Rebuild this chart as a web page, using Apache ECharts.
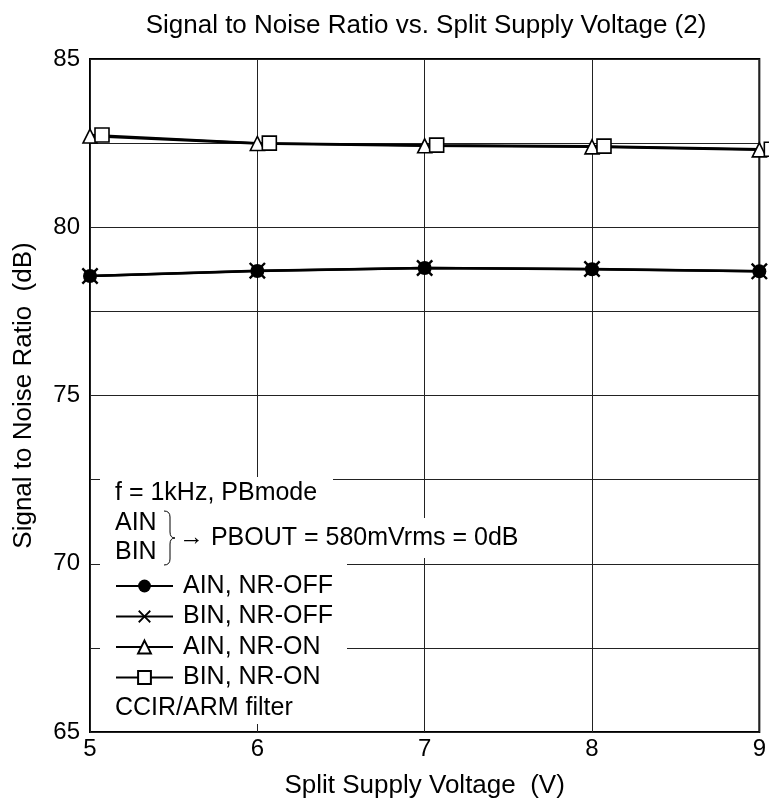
<!DOCTYPE html>
<html><head><meta charset="utf-8">
<script src="https://cdn.jsdelivr.net/npm/echarts@6/dist/echarts.min.js"></script>
<style>html,body{margin:0;padding:0;background:#fff}#c{width:769px;height:811px}</style>
</head><body><div id="c"></div>
<script>
// ---- data ----
const voltages = [5, 6, 7, 8, 9];
const ainNrOff = [78.55, 78.70, 78.79, 78.75, 78.69];
const binNrOff = [78.55, 78.71, 78.79, 78.76, 78.69];
const ainNrOn  = [82.71, 82.49, 82.42, 82.39, 82.30];
const binNrOn  = [82.74, 82.50, 82.44, 82.41, 82.32];
const seriesNames = ['AIN, NR-OFF', 'BIN, NR-OFF', 'AIN, NR-ON', 'BIN, NR-ON'];
const xTickLabels = ['5', '6', '7', '8', '9'];
const yTickLabels = ['65', '70', '75', '80', '85'];
const titleText = 'Signal to Noise Ratio vs. Split Supply Voltage (2)';
const xName = 'Split Supply Voltage  (V)';
const yName = 'Signal to Noise Ratio  (dB)';
const noteLines = ['f = 1kHz, PBmode', 'AIN', 'BIN', '\u2192 PBOUT = 580mVrms = 0dB', 'CCIR/ARM filter'];

const FONT = '"Liberation Sans", Arial, sans-serif';
const pair = (xs, ys) => xs.map((x, i) => [x, ys[i]]);
const crossPath = 'path://M0,1L1,0L5,4L9,0L10,1L6,5L10,9L9,10L5,6L1,10L0,9L4,5Z';

const chart = echarts.init(document.getElementById('c'), null, {renderer: 'canvas'});

const baseLine = {type: 'line', animation: false, clip: false,
  lineStyle: {color: '#000', width: 2.5}, z: 3};

const braceStyle = {fill: 'none', stroke: '#000', lineWidth: 1};
const brace = [
  {type: 'bezierCurve', z: 5, shape: {x1: 164, y1: 511, x2: 170, y2: 517, cpx1: 170, cpy1: 511}, style: braceStyle},
  {type: 'line', z: 5, shape: {x1: 170, y1: 517, x2: 170, y2: 532}, style: braceStyle},
  {type: 'bezierCurve', z: 5, shape: {x1: 170, y1: 532, x2: 175, y2: 538, cpx1: 170, cpy1: 538}, style: braceStyle},
  {type: 'bezierCurve', z: 5, shape: {x1: 175, y1: 538, x2: 170, y2: 544, cpx1: 170, cpy1: 538}, style: braceStyle},
  {type: 'line', z: 5, shape: {x1: 170, y1: 544, x2: 170, y2: 559}, style: braceStyle},
  {type: 'bezierCurve', z: 5, shape: {x1: 170, y1: 559, x2: 164, y2: 565, cpx1: 170, cpy1: 565}, style: braceStyle}
];

const noteFont = '25px ' + FONT;

chart.setOption({
  animation: false,
  backgroundColor: '#fff',
  title: {
    text: titleText, left: 421, top: 8, textAlign: 'center',
    textStyle: {fontFamily: FONT, fontSize: 26, fontWeight: 'normal', color: '#000'}
  },
  grid: {left: 90, right: 9, top: 59, bottom: 79, show: true,
    borderColor: '#000', borderWidth: 2, backgroundColor: 'transparent'},
  xAxis: {
    type: 'value', min: 5, max: 9, interval: 1,
    name: xName, nameLocation: 'middle', nameGap: 41,
    nameTextStyle: {fontFamily: FONT, fontSize: 26, color: '#000'},
    axisLine: {show: false}, axisTick: {show: false},
    axisLabel: {fontFamily: FONT, fontSize: 24, color: '#000', margin: 5,
      formatter: v => { const i = voltages.indexOf(v); return i >= 0 ? xTickLabels[i] : ''; }},
    splitLine: {show: true, lineStyle: {color: '#222', width: 1}}
  },
  yAxis: {
    type: 'value', min: 65, max: 85, interval: 2.5,
    name: yName, nameLocation: 'middle', nameGap: 53,
    nameTextStyle: {fontFamily: FONT, fontSize: 26, color: '#000'},
    axisLine: {show: false}, axisTick: {show: false},
    axisLabel: {fontFamily: FONT, fontSize: 24, color: '#000', margin: 10,
      formatter: v => yTickLabels.indexOf(String(v)) >= 0 ? String(v) : ''},
    splitLine: {show: true, lineStyle: {color: '#222', width: 1}}
  },
  legend: {
    orient: 'vertical', left: 115, top: 573.5, padding: 0, itemGap: 5.5,
    itemWidth: 57, itemHeight: 16, z: 6,
    textStyle: {fontFamily: FONT, fontSize: 25, color: '#000', padding: [0, 0, 0, 5]},
    data: seriesNames
  },
  series: [
    Object.assign({}, baseLine, {
      name: seriesNames[2], data: pair(voltages, ainNrOn),
      symbol: 'triangle', symbolSize: [14, 14],
      itemStyle: {color: '#fff', borderColor: '#000', borderWidth: 1.6}
    }),
    Object.assign({}, baseLine, {
      name: seriesNames[3], data: pair(voltages, binNrOn),
      symbol: 'rect', symbolSize: 14, symbolOffset: [12, 0],
      itemStyle: {color: '#fff', borderColor: '#000', borderWidth: 1.6}
    }),
    Object.assign({}, baseLine, {
      name: seriesNames[1], data: pair(voltages, binNrOff),
      symbol: crossPath, symbolSize: 17,
      itemStyle: {color: '#000', borderWidth: 0}
    }),
    Object.assign({}, baseLine, {
      name: seriesNames[0], data: pair(voltages, ainNrOff),
      symbol: 'circle', symbolSize: 14,
      itemStyle: {color: '#000', borderWidth: 0}
    })
  ],
  graphic: [
    {type: 'rect', z: 1, shape: {x: 100, y: 477, width: 233, height: 86}, style: {fill: '#fff'}},
    {type: 'rect', z: 1, shape: {x: 160, y: 518, width: 380, height: 40}, style: {fill: '#fff'}},
    {type: 'rect', z: 1, shape: {x: 100, y: 563, width: 247, height: 161}, style: {fill: '#fff'}},
    {type: 'text', z: 5, x: 115, y: 493, style: {text: noteLines[0], font: noteFont, fill: '#000', verticalAlign: 'middle'}},
    {type: 'text', z: 5, x: 115, y: 523, style: {text: noteLines[1], font: noteFont, fill: '#000', verticalAlign: 'middle'}},
    {type: 'text', z: 5, x: 115, y: 552, style: {text: noteLines[2], font: noteFont, fill: '#000', verticalAlign: 'middle'}},
    {type: 'text', z: 5, x: 179, y: 538, style: {text: noteLines[3], font: noteFont, fill: '#000', verticalAlign: 'middle'}},
    {type: 'text', z: 5, x: 115, y: 708, style: {text: noteLines[4], font: noteFont, fill: '#000', verticalAlign: 'middle'}}
  ].concat(brace)
});
</script>
</body></html>
